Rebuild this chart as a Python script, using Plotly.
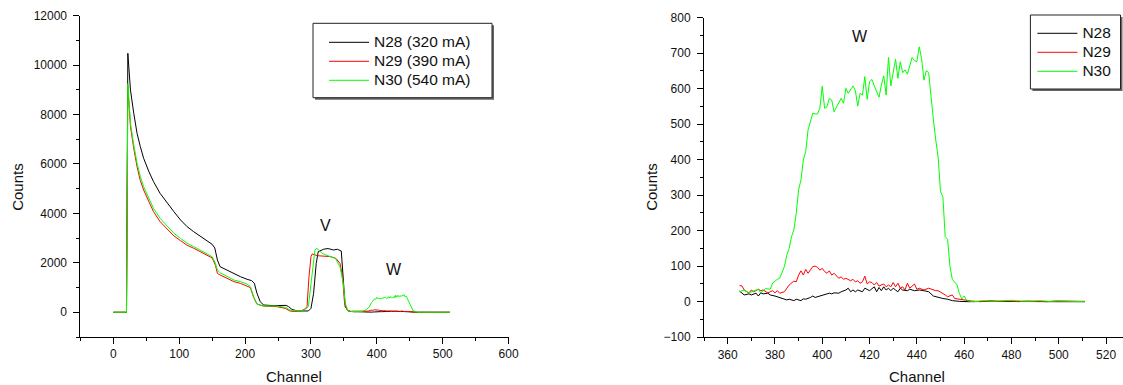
import plotly.graph_objects as go

W, H = 1123, 385

# ---------------- data ----------------
# Full spectrum, channels 0..364 (left panel only)
n28_ch_a = [0, 19, 20, 22, 26, 31, 36, 41, 46, 54, 61, 71, 82, 92, 102, 112, 122, 132, 142, 150, 154,
            158, 162, 172, 183, 193, 203, 210, 214, 218, 223, 228, 243, 258, 262, 266, 271, 279, 296,
            300, 304, 308, 311, 319, 326, 334, 340, 346, 349, 352, 357, 361]
n28_ct_a = [0, 0, 0, 10480, 8990, 8050, 7240, 6700, 6230, 5690, 5285, 4810, 4405, 4070, 3735, 3465, 3260, 3085, 2900, 2750, 2600,
            2115, 1845, 1710, 1575, 1440, 1335, 1280, 1175, 770, 430, 295, 270, 255, 280, 230, 120, 53, 53,
            160, 770, 1980, 2450, 2550, 2580, 2520, 2550, 2480, 1170, 228, 40, 22]

n29_ch_a = [0, 19, 20, 22, 26, 31, 36, 41, 46, 54, 61, 71, 82, 92, 102, 112, 122, 132, 142, 150, 155,
            158, 162, 173, 183, 193, 203, 208, 213, 218, 228, 248, 261, 268, 275, 285, 290, 294, 297,
            300, 302, 310, 320, 330, 338, 344, 348, 351, 355, 360]
n29_ct_a = [0, 0, 0, 9150, 7510, 6630, 5890, 5325, 4950, 4475, 4070, 3665, 3357, 3087, 2900, 2710, 2590, 2455, 2320, 2200, 1900,
            1575, 1510, 1375, 1240, 1170, 1065, 1000, 600, 330, 250, 228, 160, 53, 30, 60, 120, 228, 1440,
            2250, 2360, 2290, 2270, 2250, 2180, 1980, 1440, 362, 93, 40]

n30_ch_a = [0, 19, 20, 22, 26, 31, 36, 41, 46, 54, 61, 71, 82, 92, 102, 112, 122, 132, 142, 150, 155,
            158, 162, 173, 183, 193, 203, 208, 213, 218, 228, 248, 261, 268, 279, 286, 292, 296,
            300, 304, 306, 309, 317, 327, 337, 344, 349, 352, 356, 360]
n30_ct_a = [0, 0, 0, 9250, 7645, 6770, 6030, 5490, 5085, 4610, 4205, 3800, 3465, 3195, 2990, 2790, 2655, 2520, 2385, 2250, 1980,
            1710, 1600, 1440, 1305, 1240, 1140, 1037, 630, 335, 255, 255, 200, 93, 53, 70, 130, 228,
            1172, 2250, 2520, 2587, 2385, 2275, 2185, 1845, 1172, 362, 66, 30]

# W region, channels 365..511 (both panels)
n28_ch_b = [365, 366, 367, 369, 370, 372, 373, 374, 375, 377, 378, 380, 382, 384, 385, 386, 388, 389, 391,
            392, 393, 395, 396, 397, 398, 400, 401, 403, 404, 405, 407, 408, 410, 411, 412, 413, 414, 415,
            417, 418, 420, 421, 422, 423, 424, 425, 426, 427, 428, 429, 430, 431, 432, 433, 434, 436, 437,
            439, 441, 443, 445, 447, 449, 451, 453, 455, 458, 462, 470, 480, 490, 500, 511]
n28_ct_b = [30, 25, 19, 22, 19, 24, 16, 25, 22, 24, 19, 16, 12, 7, 5, 7, 3, 7, 3,
            8, 7, 12, 16, 12, 14, 16, 19, 24, 22, 25, 24, 28, 33, 38, 28, 33, 28, 33,
            28, 38, 31, 38, 42, 28, 40, 31, 42, 33, 38, 31, 38, 33, 28, 38, 33, 31, 35,
            31, 33, 31, 28, 16, 12, 9, 7, 3, 1, 0, 1, 0, 1, 0, 0]

n29_ch_b = [365, 366, 367, 368, 369, 370, 371, 373, 374, 375, 376, 377, 379, 380, 381, 382, 384, 385, 386,
            388, 389, 390, 391, 392, 393, 394, 396, 397, 398, 399, 400, 401, 402, 403, 404, 405, 406, 407,
            408, 409, 410, 412, 413, 414, 415, 416, 417, 418, 419, 420, 421, 422, 423, 424, 426, 427, 428,
            429, 430, 431, 432, 433, 434, 435, 436, 437, 439, 440, 441, 443, 445, 446, 448, 449, 451, 452,
            453, 455, 456, 458, 459, 463, 467, 471, 475, 479, 483, 487, 491, 495, 499, 503, 507, 511]
n29_ct_b = [45, 45, 33, 28, 24, 33, 28, 35, 31, 33, 28, 25, 31, 25, 31, 24, 28, 38, 47,
            58, 56, 75, 87, 75, 91, 80, 99, 100, 97, 89, 94, 85, 80, 87, 75, 80, 72, 66,
            70, 63, 66, 59, 63, 56, 59, 52, 56, 72, 50, 56, 54, 47, 54, 44, 50, 42, 47,
            42, 54, 42, 52, 38, 42, 33, 52, 38, 50, 35, 38, 33, 38, 35, 31, 31, 24, 19,
            14, 19, 9, 7, 5, 2, 0, 3, 1, 2, 0, 2, 1, 0, 2, 1, 0, 1]

n30_ch_b = [365, 366, 367, 369, 370, 371, 373, 374, 375, 376, 378, 379, 381, 382, 384, 385, 386, 387, 388,
            389, 390, 391, 392, 393, 394, 395, 396, 397, 398, 399, 400, 401, 402, 403, 404, 405, 406, 407,
            408, 409, 410, 411, 412, 413, 414, 415, 416, 417, 418, 419, 420, 421, 422, 424, 425, 426, 427,
            428, 429, 430, 431, 432, 433, 434, 435, 436, 438, 439, 440, 441, 442, 443, 444, 445, 446, 447,
            448, 449, 450, 451, 452, 453, 454, 455, 457, 458, 459, 460, 461, 462, 464, 468, 472, 476, 480,
            484, 488, 492, 496, 500, 504, 508, 511]
n30_ct_b = [28, 31, 33, 25, 28, 31, 35, 25, 31, 37, 35, 52, 63, 66, 99, 131, 150, 183, 202,
            249, 315, 343, 399, 423, 484, 512, 531, 529, 529, 545, 607, 545, 549, 573, 568, 535, 549, 559,
            573, 559, 601, 587, 598, 608, 594, 551, 587, 582, 634, 570, 620, 626, 608, 576, 610, 636, 582,
            688, 608, 643, 683, 629, 676, 645, 653, 641, 688, 679, 676, 718, 685, 624, 651, 645, 568, 512,
            455, 408, 310, 296, 183, 176, 99, 63, 47, 23, 8, 16, 5, 2, 0, 3, 1, 2, 4, 2,
            1, 3, 1, 2, 1, 2, 0, 1]

left_names = ["N28 (320 mA)", "N29 (390 mA)", "N30 (540 mA)"]
right_names = ["N28", "N29", "N30"]
colors = ["#000000", "#FF0000", "#00FF00"]

left_x_ticks = [0, 100, 200, 300, 400, 500, 600]
left_y_ticks = [0, 2000, 4000, 6000, 8000, 10000, 12000]
right_x_ticks = [360, 380, 400, 420, 440, 460, 480, 500, 520]
right_y_ticks = [-100, 0, 100, 200, 300, 400, 500, 600, 700, 800]

# ---------------- figure ----------------
FONT = "Liberation Sans, Arial, sans-serif"
fig = go.Figure()

full = [(n28_ch_a + n28_ch_b, n28_ct_a + n28_ct_b),
        (n29_ch_a + n29_ch_b, n29_ct_a + n29_ct_b),
        (n30_ch_a + n30_ch_b, n30_ct_a + n30_ct_b)]
wreg = [(n28_ch_b, n28_ct_b), (n29_ch_b, n29_ct_b), (n30_ch_b, n30_ct_b)]

def big(t):
    return "<span style='font-size:15.5px'>" + t + "</span>"

for (x, y), name, c in zip(full, left_names, colors):
    fig.add_trace(go.Scatter(x=x, y=y, mode="lines", name=big(name), line=dict(color=c, width=1),
                             xaxis="x", yaxis="y", legend="legend"))
for (x, y), name, c in zip(wreg, right_names, colors):
    fig.add_trace(go.Scatter(x=x, y=y, mode="lines", name=big(name), line=dict(color=c, width=1),
                             xaxis="x2", yaxis="y2", legend="legend2"))

def px_x(p):
    return p / W

def px_y(p):
    return 1 - p / H

axis_common = dict(showline=True, linecolor="black", linewidth=1, ticks="outside", ticklen=6,
                   tickwidth=1, tickcolor="black", showgrid=False, zeroline=False,
                   tickformat="d",
                   tickfont=dict(family=FONT, size=12, color="#111111"))

legend_common = dict(xanchor="left", yanchor="top", bgcolor="rgba(0,0,0,0)", borderwidth=0,
                     font=dict(family=FONT, size=12.3, color="#111111"), tracegroupgap=0,
                     itemwidth=40)

fig.update_layout(
    width=W, height=H, margin=dict(l=0, r=0, t=0, b=0, autoexpand=False),
    paper_bgcolor="white", plot_bgcolor="white",
    font=dict(family=FONT, color="#111111"),
    xaxis=dict(domain=[px_x(80.4), px_x(508.6)], range=[-50, 600], tickvals=left_x_ticks,
               minor=dict(ticks="outside", ticklen=3, dtick=50, tick0=0, tickcolor="black"),
               anchor="y", **axis_common),
    yaxis=dict(domain=[px_y(337), px_y(15.7)], range=[-1000, 12000], tickvals=left_y_ticks,
               minor=dict(ticks="outside", ticklen=3, dtick=1000, tick0=0, tickcolor="black"),
               anchor="x", ticklabelstandoff=4, **axis_common),
    xaxis2=dict(domain=[px_x(704), 1.0], range=[350, 350 + 419 / 2.365], tickvals=right_x_ticks,
                minor=dict(ticks="outside", ticklen=3, dtick=10, tick0=0, tickcolor="black"),
                anchor="y2", **axis_common),
    yaxis2=dict(domain=[px_y(337.2), px_y(17.7)], range=[-100, 800], tickvals=right_y_ticks,
                minor=dict(ticks="outside", ticklen=3, dtick=50, tick0=0, tickcolor="black"),
                anchor="x2", ticklabelstandoff=4, **axis_common),
    legend=dict(x=px_x(324), y=px_y(27.8), **legend_common),
    legend2=dict(x=px_x(1032.4), y=px_y(18.8), **legend_common),
    showlegend=True,
)

# legend frames with shadow
for (x0, y0, x1, y1) in [(313, 23.3, 492, 97.7), (1030.4, 15, 1120.5, 89)]:
    fig.add_shape(type="rect", xref="paper", yref="paper",
                  x0=px_x(x0 + 2), x1=px_x(x1 + 2), y0=px_y(y1 + 2), y1=px_y(y0 + 2),
                  line=dict(width=0), fillcolor="#666666", layer="above")
    fig.add_shape(type="rect", xref="paper", yref="paper",
                  x0=px_x(x0), x1=px_x(x1), y0=px_y(y1), y1=px_y(y0),
                  line=dict(color="#222222", width=1), fillcolor="white", layer="above")

# peak labels
fig.add_annotation(x=321.6, y=3500, xref="x", yref="y", text="V", showarrow=False,
                   font=dict(family=FONT, size=16, color="#111111"))
fig.add_annotation(x=426, y=1730, xref="x", yref="y", text="W", showarrow=False,
                   font=dict(family=FONT, size=16, color="#111111"))
fig.add_annotation(x=415.8, y=746, xref="x2", yref="y2", text="W", showarrow=False,
                   font=dict(family=FONT, size=16, color="#111111"))

# axis titles
title_font = dict(family=FONT, size=15, color="#111111")
for (x, y, t, ang) in [(16.8, 187, "Counts", -90), (294, 376.7, "Channel", 0),
                       (650.8, 187, "Counts", -90), (917.3, 376.7, "Channel", 0)]:
    fig.add_annotation(x=px_x(x), y=px_y(y), xref="paper", yref="paper", text=t,
                       showarrow=False, textangle=ang, xanchor="center", yanchor="middle",
                       font=title_font)

fig.write_html("out.html", config={"displayModeBar": False},
               post_script="document.body.style.margin='0';document.body.style.overflow='hidden';")
